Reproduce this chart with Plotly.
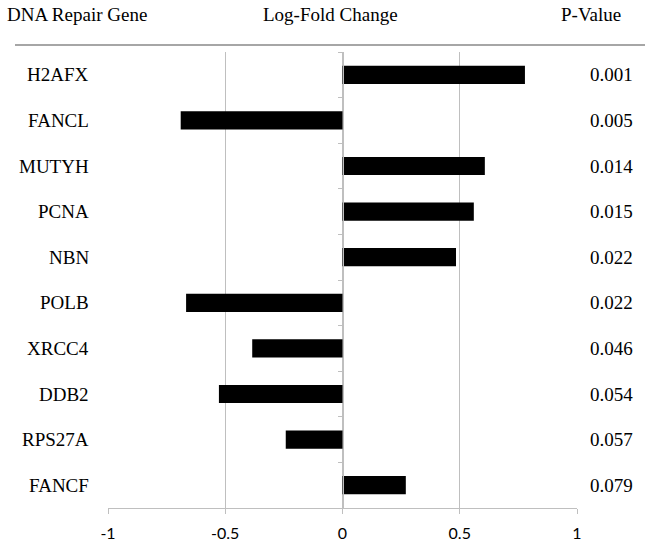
import plotly.graph_objects as go

genes = ["H2AFX", "FANCL", "MUTYH", "PCNA", "NBN", "POLB", "XRCC4", "DDB2", "RPS27A", "FANCF"]
log_fold = [0.778, -0.69, 0.607, 0.56, 0.484, -0.667, -0.385, -0.527, -0.242, 0.27]
p_values = ["0.001", "0.005", "0.014", "0.015", "0.022", "0.022", "0.046", "0.054", "0.057", "0.079"]
x_ticks = [-1, -0.5, 0, 0.5, 1]
x_tick_text = ["-1", "-0.5", "0", "0.5", "1"]
headers = ["DNA Repair Gene", "Log-Fold Change", "P-Value"]

W, H = 648, 544
L, R, T, B = 108, 71, 52, 36
pw, ph = W - L - R, H - T - B

def px(xpix):
    return (xpix - L) / pw

def py(ypix):
    return 1 - (ypix - T) / ph

serif = "Liberation Serif"
grid = "#bfbfbf"
fs = 19

fig = go.Figure()
fig.add_trace(go.Bar(
    x=log_fold, y=genes, orientation="h",
    marker=dict(color="black", line=dict(width=0)),
    width=0.4, hoverinfo="skip",
))

fig.update_layout(
    width=W, height=H,
    margin=dict(l=L, r=R, t=T, b=B, pad=0, autoexpand=False),
    plot_bgcolor="white", paper_bgcolor="white",
    showlegend=False,
    font=dict(family=serif, color="black"),
    xaxis=dict(
        range=[-1, 1], tickvals=x_ticks, ticktext=x_tick_text,
        showgrid=True, gridcolor=grid, gridwidth=1,
        zeroline=False,
        showline=True, linecolor=grid, linewidth=1,
        ticks="outside", ticklen=5, tickcolor=grid,
        ticklabelstandoff=6, automargin=False,
        tickfont=dict(family="Lato", size=16, color="black"),
        fixedrange=True,
    ),
    yaxis=dict(
        categoryorder="array", categoryarray=genes,
        range=[len(genes) - 0.5, -0.5],
        anchor="free", position=0.5,
        showline=True, linecolor=grid, linewidth=1,
        ticks="outside", ticklen=5, tickcolor=grid, tickson="boundaries",
        showticklabels=False, showgrid=False, zeroline=False,
        automargin=False, fixedrange=True,
    ),
)

annotations = []
for g in genes:
    annotations.append(dict(
        x=px(91), y=g, xref="paper", yref="y", text=g, showarrow=False,
        xanchor="right", yanchor="middle",
        font=dict(family=serif, size=fs, color="black"),
    ))
for g, p in zip(genes, p_values):
    annotations.append(dict(
        x=px(611), y=g, xref="paper", yref="y", text=p, showarrow=False,
        xanchor="center", yanchor="middle",
        font=dict(family=serif, size=fs, color="black"),
    ))

header_pos = [(px(5), "left"), (px(330), "center"), (px(591), "center")]
for text, (hx, anc) in zip(headers, header_pos):
    annotations.append(dict(
        x=hx, y=py(14), xref="paper", yref="paper", text=text, showarrow=False,
        xanchor=anc, yanchor="middle",
        font=dict(family=serif, size=fs, color="black"),
    ))
fig.update_layout(annotations=annotations)

fig.add_shape(type="line", xref="paper", yref="paper",
              x0=px(15), x1=px(645), y0=py(45), y1=py(45),
              line=dict(color="#a6a6a6", width=2))

fig.write_html("out.html", config={"displayModeBar": False},
               post_script="document.body.style.margin='0';")
